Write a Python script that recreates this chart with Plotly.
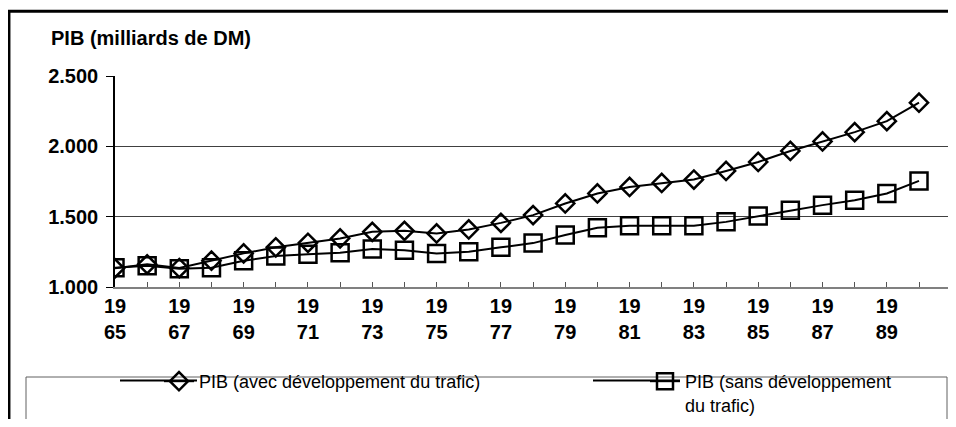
import plotly.graph_objects as go

years = list(range(1965, 1991))
pib_avec = [1133, 1161, 1135, 1187, 1239, 1282, 1314, 1345, 1392, 1399, 1381, 1409, 1456,
            1511, 1594, 1665, 1711, 1740, 1764, 1825, 1889, 1967, 2035, 2101, 2179, 2310]
pib_sans = [1137, 1151, 1130, 1137, 1187, 1220, 1232, 1243, 1270, 1262, 1239, 1250, 1282,
            1312, 1369, 1421, 1435, 1435, 1435, 1463, 1504, 1546, 1582, 1617, 1665, 1754]
x_labels = ["19<br>65", "", "19<br>67", "", "19<br>69", "", "19<br>71", "", "19<br>73", "",
            "19<br>75", "", "19<br>77", "", "19<br>79", "", "19<br>81", "", "19<br>83", "",
            "19<br>85", "", "19<br>87", "", "19<br>89", ""]
y_ticks = [1000, 1500, 2000, 2500]
y_labels = ["1.000", "1.500", "2.000", "2.500"]

# the page has an 8px body margin, so the figure is kept 16px smaller than the window
OFF = 8
W, H = 956 - 2 * OFF, 427 - 2 * OFF


def fx(p):
    return (p - OFF) / W


def fy(p):
    return 1 - (p - OFF) / H


fig = go.Figure()
fig.add_trace(go.Scatter(
    x=years, y=pib_avec, mode="lines+markers",
    name="PIB (avec développement du trafic)",
    line=dict(color="black", width=2),
    marker=dict(symbol="diamond-open", size=14, color="black",
                line=dict(color="black", width=2.5)),
    legendwidth=308,
))
fig.add_trace(go.Scatter(
    x=years, y=pib_sans, mode="lines+markers",
    name="PIB (sans développement<br>du trafic)",
    line=dict(color="black", width=2),
    marker=dict(symbol="square-open", size=17, color="black",
                line=dict(color="black", width=2.5)),
    legendwidth=250,
))

fig.update_xaxes(
    domain=[fx(115), 1], range=[1965, 1965 + (948 - 115) / 32.16], tickvals=years, ticktext=x_labels,
    ticks="inside", ticklen=5, tickcolor="#555", tickwidth=1,
    showline=True, linecolor="#808080", linewidth=2,
    showgrid=False, zeroline=False, automargin=False,
    tickfont=dict(family="Liberation Sans", size=20, color="black", weight="bold"),
)
fig.update_yaxes(
    domain=[fy(287), fy(76)], range=[1000, 2500], tickvals=y_ticks, ticktext=y_labels,
    ticks="outside", ticklen=7, tickcolor="black", tickwidth=1,
    showline=True, linecolor="black", linewidth=1.5,
    showgrid=True, gridcolor="#404040", gridwidth=1, zeroline=False, automargin=False,
    ticklabelstandoff=4,
    tickfont=dict(family="Liberation Sans", size=20, color="black", weight="bold"),
)

leg_y = 380.5  # centre of the first legend text line
fig.update_layout(
    width=W, height=H,
    margin=dict(l=0, r=0, t=0, b=0, autoexpand=False),
    plot_bgcolor="white", paper_bgcolor="white",
    font=dict(family="Liberation Sans", color="black"),
    showlegend=True,
    legend=dict(
        orientation="h", x=fx(26), xanchor="left", y=fy(leg_y - 17.5), yanchor="top",
        bgcolor="rgba(0,0,0,0)", borderwidth=0,
        indentation=133, entrywidthmode="pixels", valign="top",
        font=dict(family="Liberation Sans", size=18, color="black"),
    ),
    annotations=[dict(
        text="<b>PIB (milliards de DM)</b>", xref="paper", yref="paper",
        x=fx(49), y=fy(38), xanchor="left", yanchor="middle", showarrow=False,
        font=dict(family="Liberation Sans", size=20, color="black"),
    )],
    shapes=[
        # outer chart frame: only its left and top edges fall inside the picture
        dict(type="line", xref="paper", yref="paper", x0=fx(9.2), x1=fx(9.2), y0=fy(11.3), y1=fy(440),
             line=dict(color="black", width=2.5)),
        dict(type="line", xref="paper", yref="paper", x0=fx(8), x1=fx(970), y0=fy(11.3), y1=fy(11.3),
             line=dict(color="black", width=3)),
        # legend box and the longer legend sample lines
        dict(type="rect", xref="paper", yref="paper", x0=fx(26), x1=fx(947), y0=fy(440), y1=fy(377),
             line=dict(color="#606060", width=1), layer="below"),
        dict(type="line", xref="paper", yref="paper", x0=fx(120), x1=fx(197), y0=fy(leg_y), y1=fy(leg_y),
             line=dict(color="black", width=2), layer="below"),
        dict(type="line", xref="paper", yref="paper", x0=fx(593), x1=fx(680), y0=fy(leg_y), y1=fy(leg_y),
             line=dict(color="black", width=2), layer="below"),
    ],
)

fig.write_html("out.html")
